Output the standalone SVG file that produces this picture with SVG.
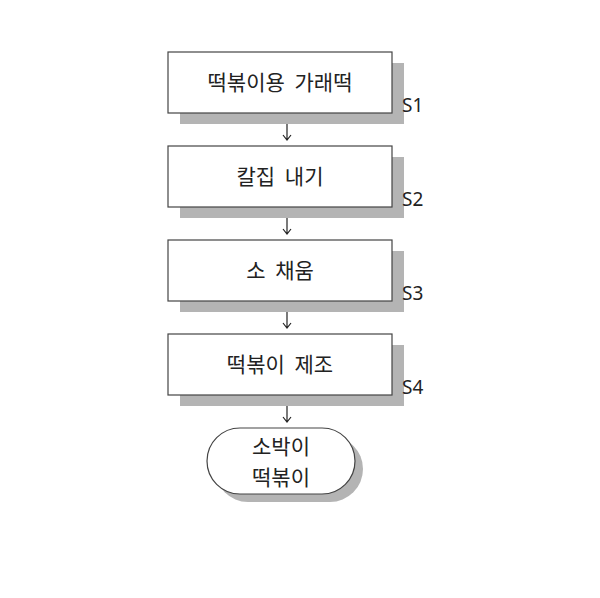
<svg xmlns="http://www.w3.org/2000/svg" width="600" height="598" viewBox="0 0 600 598">
<defs><style>
.sh{fill:#b4b4b4}
.bx{fill:#fff;stroke:#444;stroke-width:1.2}
.t{font-family:"Noto Sans CJK KR","Noto Sans",sans-serif;font-size:21px;fill:#222;text-anchor:middle;word-spacing:5px}
.l{font-family:"Noto Sans","Liberation Sans",sans-serif;font-size:19px;fill:#222}
.c{stroke:#222;stroke-width:1.2;fill:none}
</style></defs>
<rect width="600" height="598" fill="#fff"/>
<g id="s1"><rect class="sh" x="180" y="63" width="224" height="61"/><rect class="bx" x="168" y="52" width="224" height="61"/><text class="t" x="280" y="90">떡볶이용 가래떡</text><text class="l" x="402" y="112">S1</text></g>
<g id="s2"><rect class="sh" x="180" y="157" width="224" height="61"/><rect class="bx" x="168" y="146" width="224" height="61"/><text class="t" x="280" y="184">칼집 내기</text><text class="l" x="402" y="206">S2</text></g>
<g id="s3"><rect class="sh" x="180" y="251" width="224" height="61"/><rect class="bx" x="168" y="240" width="224" height="61"/><text class="t" x="280" y="278">소 채움</text><text class="l" x="402" y="300">S3</text></g>
<g id="s4"><rect class="sh" x="180" y="345" width="224" height="61"/><rect class="bx" x="168" y="334" width="224" height="61"/><text class="t" x="280" y="372">떡볶이 제조</text><text class="l" x="402" y="394">S4</text></g>
<g id="end"><rect class="sh" x="215" y="436" width="148" height="66" rx="33"/><rect class="bx" x="207" y="428" width="148" height="66" rx="33"/><text class="t" x="281" y="454">소박이</text><text class="t" x="281" y="485">떡볶이</text></g>
<g id="connectors">
<path class="c" d="M287 124V140M283 135L287 140L291 135"/>
<path class="c" d="M287 218V234M283 229L287 234L291 229"/>
<path class="c" d="M287 312V328M283 323L287 328L291 323"/>
<path class="c" d="M287 406V422M283 417L287 422L291 417"/>
</g>
</svg>
